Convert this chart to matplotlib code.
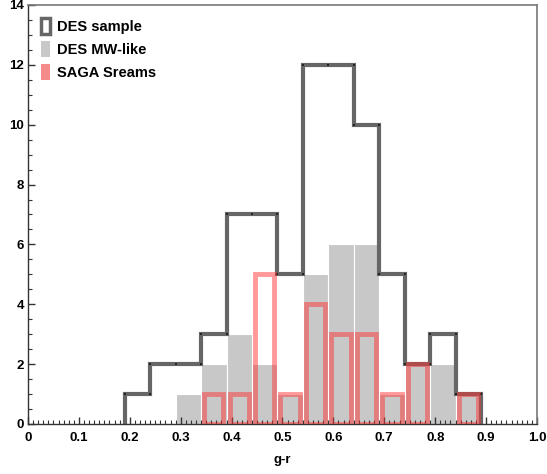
import matplotlib
matplotlib.use("Agg")
import matplotlib.pyplot as plt
import numpy as np
from matplotlib.patches import Patch
from matplotlib.ticker import MultipleLocator

plt.rcParams["font.family"] = ["Liberation Sans", "DejaVu Sans"]
plt.rcParams["font.weight"] = "bold"

# bin edges in g-r (width 0.05)
edges = [0.19, 0.24, 0.29, 0.34, 0.39, 0.44, 0.49, 0.54,
         0.59, 0.64, 0.69, 0.74, 0.79, 0.84, 0.89]
des_sample = [1, 2, 2, 3, 7, 7, 5, 12, 12, 10, 5, 2, 3, 1]
des_mw_like = [0, 0, 1, 2, 3, 2, 1, 5, 6, 6, 1, 2, 2, 1]
saga_streams = [0, 0, 0, 1, 1, 5, 1, 4, 3, 3, 1, 2, 0, 1]

edges = np.array(edges)
left = edges[:-1]
right = edges[1:]
centers = (left + right) / 2
width = right - left

fig = plt.figure(figsize=(5.47, 4.74), dpi=100)
ax = fig.add_axes([0.0512, 0.1055, 0.9305, 0.884])

# DES MW-like: filled grey bars
ax.bar(left, des_mw_like, width=width, align="edge", color="#c8c8c8",
       edgecolor="white", linewidth=0.8, zorder=1)

# DES sample: step outline
xs = np.concatenate([[edges[0]], np.repeat(edges[1:-1], 2), [edges[-1]]])
ys = np.repeat(des_sample, 2)
xs = np.concatenate([[edges[0]], xs, [edges[-1]]])
ys = np.concatenate([[0], ys, [0]])
ax.plot(xs, ys, color="#666666", linewidth=3, solid_joinstyle="miter",
        zorder=2)
ax.plot(np.concatenate([left, right]), np.concatenate([des_sample, des_sample]),
        "s", color="#222222", markersize=1.8, markeredgewidth=0, zorder=3)

# SAGA streams: outlined pink bars
for c, v in zip(centers, saga_streams):
    if v > 0:
        ax.bar(c, v, width=0.038, fill=False, edgecolor=(1, 0.2, 0.2, 0.5),
               linewidth=3.5, zorder=4)

ax.set_xlim(0, 1.0)
ax.set_ylim(0, 14)
ax.xaxis.set_minor_locator(MultipleLocator(0.01))
ax.yaxis.set_major_locator(MultipleLocator(2))
ax.yaxis.set_minor_locator(MultipleLocator(0.5))
ax.set_xticks(np.arange(0, 1.01, 0.1))
ax.set_xticklabels(["0", "0.1", "0.2", "0.3", "0.4", "0.5", "0.6", "0.7",
                    "0.8", "0.9", "1.0"])
ax.tick_params(which="major", direction="in", length=5, width=1,
               labelsize=9.5, pad=6, color="#333333")
ax.tick_params(which="minor", direction="in", length=3, width=0.8,
               color="#333333")
ax.tick_params(axis="y", pad=3)
for lab in ax.get_xticklabels() + ax.get_yticklabels():
    lab.set_fontweight("bold")

for side in ["top", "right"]:
    ax.spines[side].set_color("#777777")
    ax.spines[side].set_linewidth(1.2)
for side in ["left", "bottom"]:
    ax.spines[side].set_color("#333333")
    ax.spines[side].set_linewidth(1)

ax.set_xlabel("g-r", fontsize=9.5, fontweight="bold", labelpad=7)

handles = [
    Patch(facecolor="none", edgecolor="#666666", linewidth=2.5),
    Patch(facecolor="#c8c8c8", edgecolor="none"),
    Patch(facecolor="#f58a8a", edgecolor="none"),
]
ax.legend(handles, ["DES sample", "DES MW-like", "SAGA Sreams"],
          loc="upper left", frameon=False, handlelength=0.6,
          handleheight=1.3, handletextpad=0.5, labelspacing=0.5,
          prop={"weight": "bold", "size": 10.5}, borderaxespad=0.5)

fig.savefig("out.png", dpi=100)
